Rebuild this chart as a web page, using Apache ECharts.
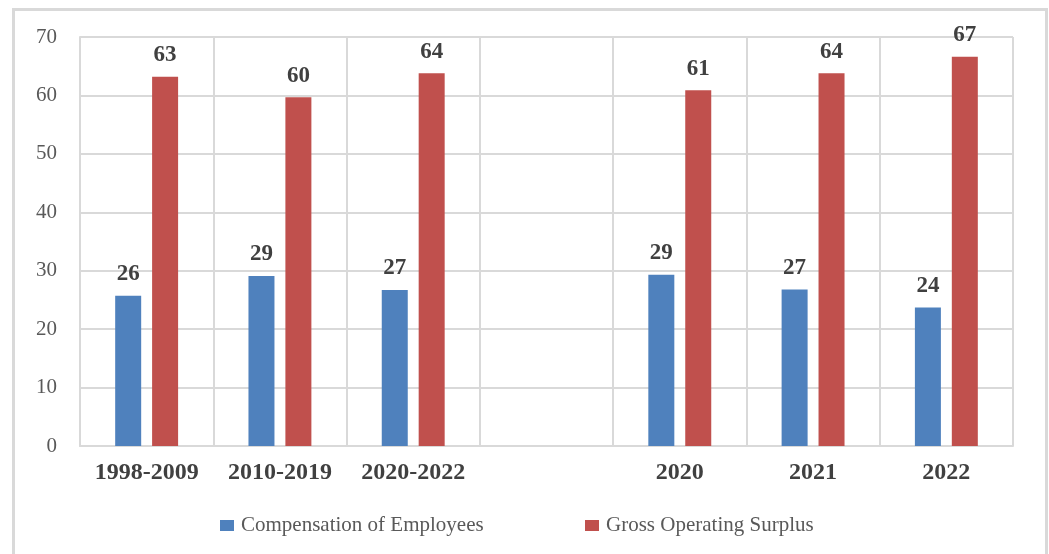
<!DOCTYPE html>
<html>
<head>
<meta charset="utf-8">
<script src="https://cdn.jsdelivr.net/npm/echarts@6/dist/echarts.min.js"></script>
<style>
  html, body { margin: 0; padding: 0; background: #fff; }
  #chart { width: 1049px; height: 554px; }
</style>
</head>
<body>
<div id="chart"></div>
<script>
  let categories = ['1998-2009', '2010-2019', '2020-2022', '', '2020', '2021', '2022'];
  let compensation = [25.7, 29.1, 26.7, null, 29.3, 26.8, 23.7];
  let surplus = [63.2, 59.7, 63.8, null, 60.9, 63.8, 66.6];
  let yTicks = { min: 0, max: 70, interval: 10 };

  let FONT = '"Liberation Serif", "Times New Roman", serif';
  let GRID_COLOR = '#d9d9d9';

  let chart = echarts.init(document.getElementById('chart'));

  let labelStyle = {
    show: true,
    position: 'top',
    distance: 10,
    fontFamily: FONT,
    fontSize: 23,
    fontWeight: 'bold',
    color: '#404040',
    formatter: p => Math.round(p.value)
  };

  let legendBase = {
    top: 510,
    icon: 'rect',
    itemWidth: 14,
    itemHeight: 11,
    itemGap: 5,
    textStyle: { fontFamily: FONT, fontSize: 21, color: '#595959', padding: [0, 0, 0, 2] }
  };

  let option = {
    animation: false,
    backgroundColor: '#fff',
    graphic: [{
      type: 'rect',
      shape: { x: 13.5, y: 9.5, width: 1033, height: 600 },
      style: { fill: 'none', stroke: GRID_COLOR, lineWidth: 3 },
      silent: true
    }],
    legend: [
      Object.assign({}, legendBase, { left: 215, data: ['Compensation of Employees'] }),
      Object.assign({}, legendBase, { left: 580, data: ['Gross Operating Surplus'] })
    ],
    grid: { left: 80, right: 36, top: 37, bottom: 108 },
    xAxis: {
      type: 'category',
      data: categories,
      axisTick: { show: false },
      axisLine: { lineStyle: { color: GRID_COLOR, width: 2 } },
      splitLine: { show: true, interval: 0, lineStyle: { color: GRID_COLOR, width: 2 } },
      axisLabel: {
        interval: 0,
        margin: 15,
        fontFamily: FONT,
        fontSize: 24,
        fontWeight: 'bold',
        color: '#404040'
      }
    },
    yAxis: {
      type: 'value',
      min: yTicks.min,
      max: yTicks.max,
      interval: yTicks.interval,
      axisLine: { show: true, lineStyle: { color: GRID_COLOR, width: 2 } },
      splitLine: { lineStyle: { color: GRID_COLOR, width: 2 } },
      axisLabel: { margin: 23, fontFamily: FONT, fontSize: 21, color: '#595959' }
    },
    series: [
      {
        name: 'Compensation of Employees',
        type: 'bar',
        data: compensation,
        barWidth: 26,
        barGap: '42%',
        itemStyle: { color: '#4F81BD' },
        label: labelStyle
      },
      {
        name: 'Gross Operating Surplus',
        type: 'bar',
        data: surplus,
        barWidth: 26,
        barGap: '42%',
        itemStyle: { color: '#C0504D' },
        label: labelStyle
      }
    ]
  };

  chart.setOption(option);
</script>
</body>
</html>
